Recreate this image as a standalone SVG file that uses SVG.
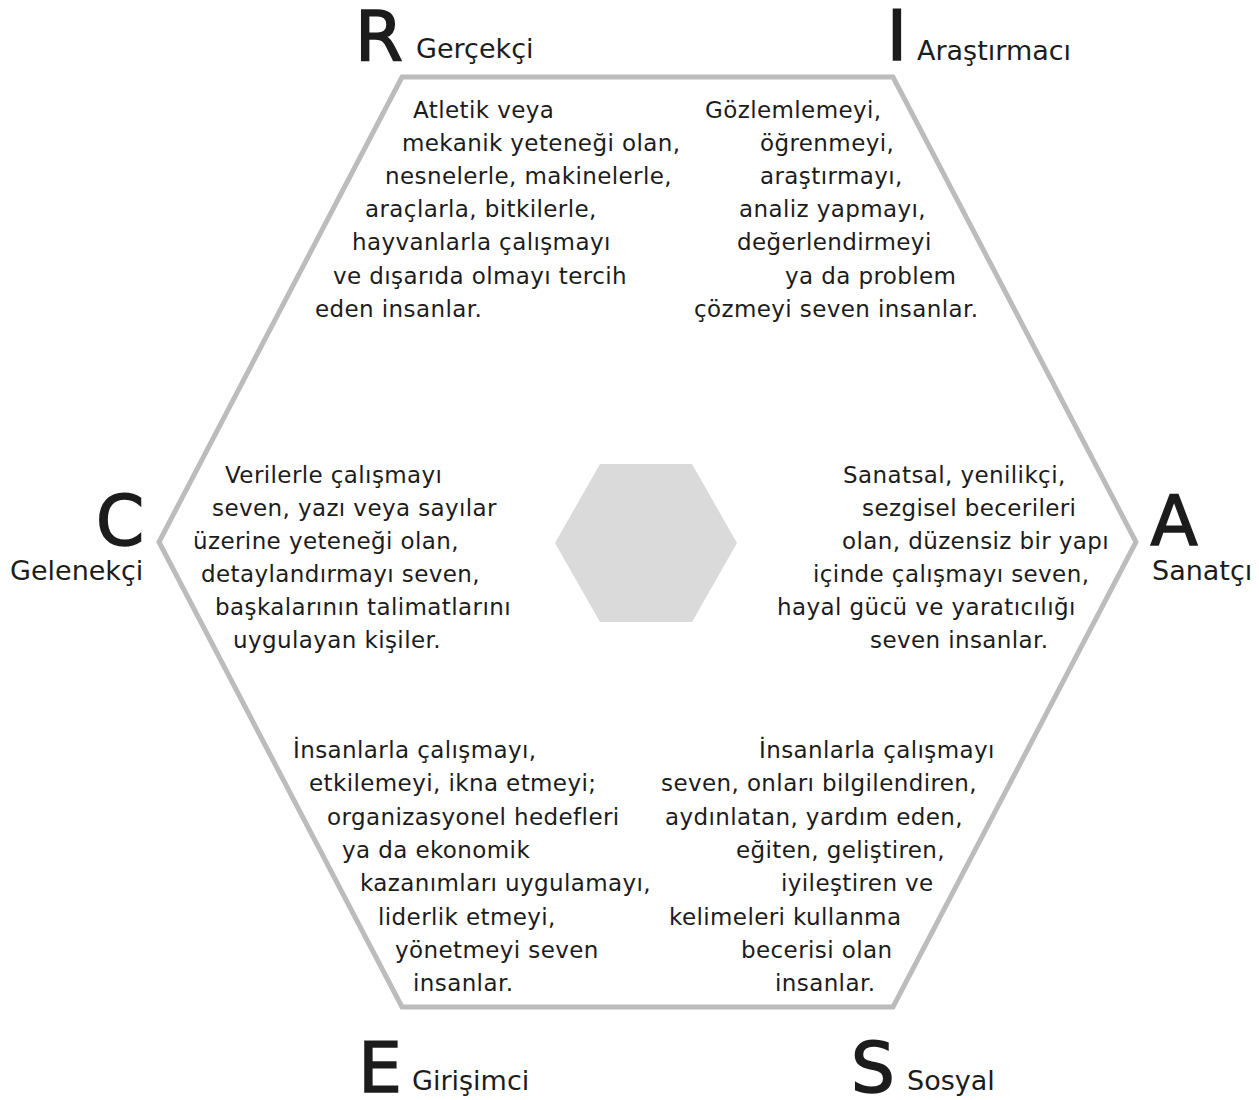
<svg xmlns="http://www.w3.org/2000/svg" width="1259" height="1100" viewBox="0 0 1259 1100">
<style>
  text { font-family: "DejaVu Sans", "Liberation Sans", sans-serif; fill: #1c1c1c; }
  .big { font-size: 69px; text-anchor: middle; stroke: #1c1c1c; stroke-width: 1.6; }
  .name { font-size: 27px; }
  .desc { font-size: 23px; letter-spacing: 0.4px; }
  .frame { fill: none; stroke: #bcbcbc; stroke-width: 5; stroke-linejoin: miter; }
  .core { fill: #dadada; stroke: none; }
</style>
<rect width="1259" height="1100" fill="#ffffff"/>
<g id="frame">
  <polygon class="frame" points="402,77 893,77 1136,542 893,1007 402,1007 159,542"/>
</g>
<g id="center">
  <polygon class="core" points="600,464 692,464 737,543 692,622 600,622 555,543"/>
</g>
<g id="connectors"></g>
<g id="node-R">
  <text class="big" x="379" y="60">R</text>
  <text class="name" x="416" y="58">Gerçekçi</text>
  <text class="desc">
    <tspan x="413" y="118">Atletik veya</tspan>
    <tspan x="402" y="151">mekanik yeteneği olan,</tspan>
    <tspan x="385" y="184">nesnelerle, makinelerle,</tspan>
    <tspan x="365" y="217">araçlarla, bitkilerle,</tspan>
    <tspan x="352" y="250">hayvanlarla çalışmayı</tspan>
    <tspan x="333" y="284">ve dışarıda olmayı tercih</tspan>
    <tspan x="315" y="317">eden insanlar.</tspan>
  </text>
</g>
<g id="node-I">
  <text class="big" x="897" y="60">I</text>
  <text class="name" x="917" y="60">Araştırmacı</text>
  <text class="desc">
    <tspan x="705" y="118">Gözlemlemeyi,</tspan>
    <tspan x="760" y="151">öğrenmeyi,</tspan>
    <tspan x="760" y="184">araştırmayı,</tspan>
    <tspan x="739" y="217">analiz yapmayı,</tspan>
    <tspan x="737" y="250">değerlendirmeyi</tspan>
    <tspan x="785" y="284">ya da problem</tspan>
    <tspan x="694" y="317">çözmeyi seven insanlar.</tspan>
  </text>
</g>
<g id="node-C">
  <text class="big" x="120" y="545">C</text>
  <text class="name" x="10" y="580">Gelenekçi</text>
  <text class="desc">
    <tspan x="225" y="483">Verilerle çalışmayı</tspan>
    <tspan x="212" y="516">seven, yazı veya sayılar</tspan>
    <tspan x="193" y="549">üzerine yeteneği olan,</tspan>
    <tspan x="201" y="582">detaylandırmayı seven,</tspan>
    <tspan x="215" y="615">başkalarının talimatlarını</tspan>
    <tspan x="233" y="648">uygulayan kişiler.</tspan>
  </text>
</g>
<g id="node-A">
  <text class="big" x="1174" y="545">A</text>
  <text class="name" x="1152" y="580">Sanatçı</text>
  <text class="desc">
    <tspan x="843" y="483">Sanatsal, yenilikçi,</tspan>
    <tspan x="862" y="516">sezgisel becerileri</tspan>
    <tspan x="842" y="549">olan, düzensiz bir yapı</tspan>
    <tspan x="813" y="582">içinde çalışmayı seven,</tspan>
    <tspan x="777" y="615">hayal gücü ve yaratıcılığı</tspan>
    <tspan x="870" y="648">seven insanlar.</tspan>
  </text>
</g>
<g id="node-E">
  <text class="big" x="380" y="1092">E</text>
  <text class="name" x="412" y="1090">Girişimci</text>
  <text class="desc">
    <tspan x="293" y="758">İnsanlarla çalışmayı,</tspan>
    <tspan x="309" y="791">etkilemeyi, ikna etmeyi;</tspan>
    <tspan x="327" y="825">organizasyonel hedefleri</tspan>
    <tspan x="342" y="858">ya da ekonomik</tspan>
    <tspan x="360" y="891">kazanımları uygulamayı,</tspan>
    <tspan x="378" y="925">liderlik etmeyi,</tspan>
    <tspan x="395" y="958">yönetmeyi seven</tspan>
    <tspan x="413" y="991">insanlar.</tspan>
  </text>
</g>
<g id="node-S">
  <text class="big" x="873" y="1092">S</text>
  <text class="name" x="907" y="1090">Sosyal</text>
  <text class="desc">
    <tspan x="759" y="758">İnsanlarla çalışmayı</tspan>
    <tspan x="661" y="791">seven, onları bilgilendiren,</tspan>
    <tspan x="665" y="825">aydınlatan, yardım eden,</tspan>
    <tspan x="736" y="858">eğiten, geliştiren,</tspan>
    <tspan x="781" y="891">iyileştiren ve</tspan>
    <tspan x="669" y="925">kelimeleri kullanma</tspan>
    <tspan x="741" y="958">becerisi olan</tspan>
    <tspan x="775" y="991">insanlar.</tspan>
  </text>
</g>
</svg>
